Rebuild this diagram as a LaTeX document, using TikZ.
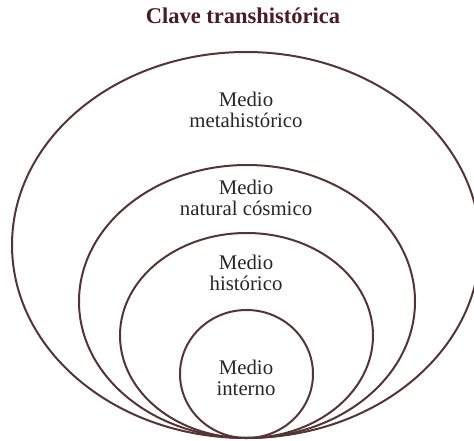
\documentclass[tikz,border=0pt]{standalone}
\usepackage{fontspec}
\setmainfont{Liberation Serif}
\usepackage{xcolor}
\usepackage{tikz}
\usetikzlibrary{shapes.geometric}
\definecolor{ringbrown}{HTML}{553436}
\definecolor{titlebrown}{HTML}{4A1C24}
\tikzstyle{ring} = [ellipse, draw=ringbrown, line width=2pt, inner sep=0pt]
\tikzstyle{label} = [align=center, text=black!85, font=\fontsize{20.8}{20.5}\selectfont]
\tikzstyle{title} = [text=titlebrown, font=\fontsize{22.5}{23}\selectfont\bfseries]

\begin{document}
\begin{tikzpicture}[x=1pt, y=-1pt]
    \useasboundingbox (0,0) rectangle (474,441);
    \clip (0,0) rectangle (474,441);
    % Rings
    \node (meta) [ring, minimum width=468pt, minimum height=386pt] at (246,245) {};
    \node (cosmico) [ring, minimum width=336pt, minimum height=273pt] at (247,301.5) {};
    \node (historico) [ring, minimum width=253pt, minimum height=205pt] at (246.5,335.5) {};
    \node (interno) [ring, minimum width=133pt, minimum height=128pt] at (246.5,374) {};
    % Texts
    \node (head) [title] at (243,16) {Clave transhistórica};
    \node (meta_txt) [label] at (246,110) {Medio\\metahistórico};
    \node (cosmico_txt) [label] at (246,198) {Medio\\natural cósmico};
    \node (historico_txt) [label] at (246,273) {Medio\\histórico};
    \node (interno_txt) [label] at (246,378) {Medio\\interno};
\end{tikzpicture}
\end{document}
